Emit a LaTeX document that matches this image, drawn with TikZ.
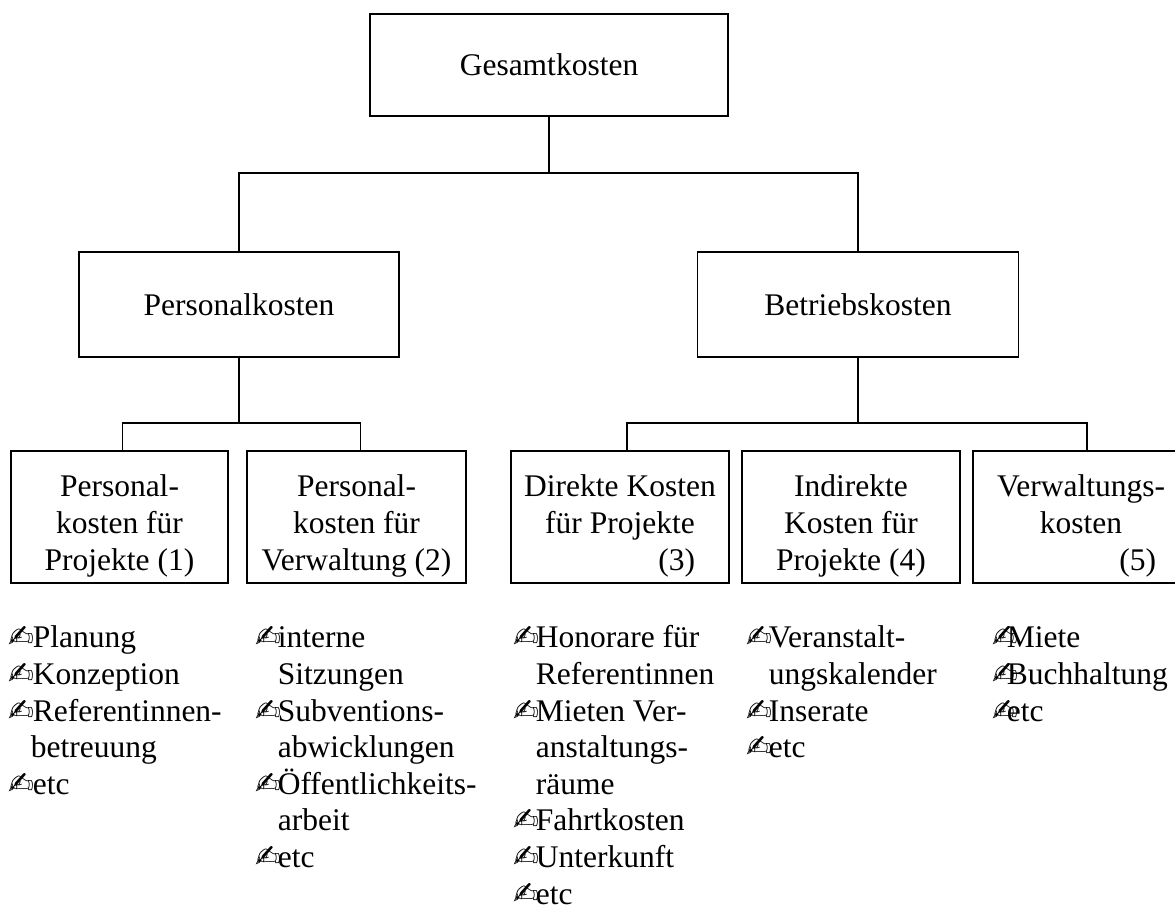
\documentclass[tikz,border=0pt]{standalone}
\usepackage{fontspec}
\setmainfont{Liberation Serif}
\newfontfamily\penfont{DejaVu Sans}
\newcommand\stift[1][22pt]{\makebox[#1][l]{\penfont\fontsize{31}{31}\selectfont\char"270D}}
\newcommand\einzug[1][22pt]{\hspace*{#1}}
\newcommand\oben{\rule{0pt}{24pt}}

\begin{document}
\begin{tikzpicture}[x=1pt,y=-1pt,line width=1.6pt,
    every node/.style={font=\fontsize{31.5}{36.6}\selectfont,inner sep=0pt},
    kasten/.style={draw,minimum width=#1,minimum height=132pt},
    kastentext/.style={anchor=north,align=center},
    liste/.style={anchor=north west,align=left}]
  \useasboundingbox (0,0) rectangle (1175,905);
  \clip (0,0) rectangle (1175,905);

  % obere Ebenen
  \node[draw,minimum width=358pt,minimum height=102pt] (gesamt) at (549,65) {Gesamtkosten};
  \node[draw,minimum width=320pt,minimum height=105pt] (personal) at (239,304.5) {Personalkosten};
  \node[draw,minimum width=321pt,minimum height=105pt] (betrieb) at (858,304.5) {Betriebskosten};

  % untere Ebene
  \node[kasten=217pt] (k1) at (119.5,517) {};
  \node[kasten=219pt] (k2) at (356.5,517) {};
  \node[kasten=218pt] (k3) at (620,517) {};
  \node[kasten=218pt] (k4) at (851,517) {};
  \node[kasten=216pt] (k5) at (1081,517) {};

  \node[kastentext] (t1) at (119.5,472) {\oben Personal-\\kosten für\\Projekte (1)};
  \node[kastentext] (t2) at (356.5,472) {\oben Personal-\\kosten für\\Verwaltung (2)};
  \node[kastentext] (t3) at (620,472) {\oben Direkte Kosten\\für Projekte\\\hspace*{3.6em}(3)};
  \node[kastentext] (t4) at (851,472) {\oben Indirekte\\Kosten für\\Projekte (4)};
  \node[kastentext] (t5) at (1081,472) {\oben Verwaltungs-\\kosten\\\hspace*{3.6em}(5)};

  % Verbindungen
  \coordinate (j0) at (549,173);
  \coordinate (j1) at (239,423);
  \coordinate (j2) at (858,423);
  \draw (gesamt.south) -- (j0);
  \draw (personal.north) |- (j0) -| (betrieb.north);
  \draw (personal.south) -- (j1);
  \draw ([xshift=3pt]k1.north) |- (j1) -| ([xshift=4pt]k2.north);
  \draw (betrieb.south) -- (j2);
  \draw ([xshift=7pt]k3.north) |- (j2) -| ([xshift=6pt]k5.north);

  % Listen
  \node[liste] (l1) at (8,623) {\oben\stift[24pt]Planung\\\stift[24pt]Konzeption\\\stift[24pt]Referentinnen-\\\einzug[22pt]betreuung\\\stift[24pt]etc};
  \node[liste] (l2) at (255,623) {\oben\stift interne\\\einzug Sitzungen\\\stift Subventions-\\\einzug abwicklungen\\\stift Öffentlichkeits-\\\einzug arbeit\\\stift etc};
  \node[liste] (l3) at (513,623) {\oben\stift Honorare für\\\einzug Referentinnen\\\stift Mieten Ver-\\\einzug anstaltungs-\\\einzug räume\\\stift Fahrtkosten\\\stift Unterkunft\\\stift etc};
  \node[liste] (l4) at (746,623) {\oben\stift Veranstalt-\\\einzug ungskalender\\\stift Inserate\\\stift etc};
  \node[liste] (l5) at (992,623) {\oben\stift[14pt]Miete\\\stift[14pt]Buchhaltung\\\stift[14pt]etc};
\end{tikzpicture}
\end{document}
